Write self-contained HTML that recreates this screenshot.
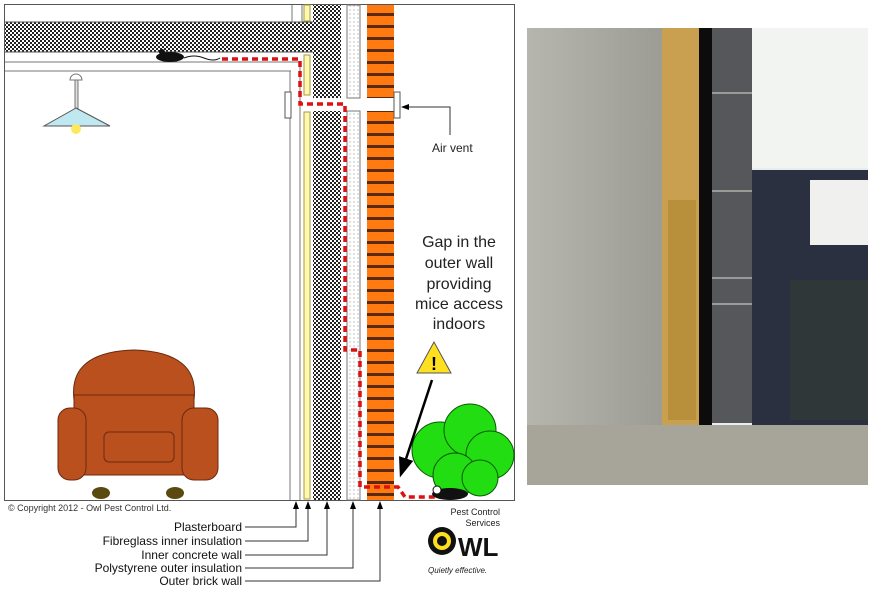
<!DOCTYPE html>
<html><head><meta charset="utf-8"><style>
body{margin:0;background:#fff;width:875px;height:598px;overflow:hidden;font-family:"Liberation Sans",sans-serif}
</style></head><body>
<svg width="875" height="598" viewBox="0 0 875 598" xmlns="http://www.w3.org/2000/svg">
<defs>
<pattern id="chk" width="4" height="4" patternUnits="userSpaceOnUse"><rect width="4" height="4" fill="#fff"/><rect width="2" height="2" fill="#222"/><rect x="2" y="2" width="2" height="2" fill="#222"/></pattern>
<pattern id="brick" width="27" height="12" patternUnits="userSpaceOnUse" y="4"><rect width="27" height="12" fill="#ff7a10"/><rect y="9" width="27" height="3" fill="#5a2a10"/></pattern>
<pattern id="dots" width="4" height="4" patternUnits="userSpaceOnUse"><rect width="4" height="4" fill="#fff"/><circle cx="2" cy="2" r="0.6" fill="#999"/></pattern>
<linearGradient id="conc" x1="0" x2="1"><stop offset="0" stop-color="#b6b6ae"/><stop offset="0.5" stop-color="#a9a9a2"/><stop offset="1" stop-color="#9c9c95"/></linearGradient>
<marker id="ah" markerWidth="8" markerHeight="8" refX="4" refY="4" orient="auto"><path d="M0,1 L8,4 L0,7z" fill="#000"/></marker>
</defs>
<rect x="4.5" y="4.5" width="510" height="496" fill="#fff" stroke="#555"/>
<rect x="5" y="22" width="308" height="30" fill="url(#chk)"/>
<line x1="5" y1="62" x2="300" y2="62" stroke="#777"/>
<line x1="5" y1="71" x2="291" y2="71" stroke="#777"/>
<line x1="5" y1="22" x2="313" y2="22" stroke="#555"/>
<line x1="5" y1="52" x2="313" y2="52" stroke="#555"/>
<line x1="290" y1="71" x2="290" y2="500" stroke="#777"/>
<line x1="292" y1="5" x2="292" y2="22" stroke="#777"/>
<line x1="300" y1="62" x2="300" y2="500" stroke="#777"/>
<line x1="302" y1="5" x2="302" y2="22" stroke="#777"/>
<rect x="304" y="5" width="6" height="16" fill="#fff8b0" stroke="#aa9a40"/>
<rect x="304" y="55" width="6" height="40" fill="#fff8b0" stroke="#aa9a40"/>
<rect x="304" y="112" width="6" height="387" fill="#fff8b0" stroke="#aa9a40"/>
<rect x="313" y="5" width="28" height="93" fill="url(#chk)"/>
<rect x="313" y="111" width="28" height="389" fill="url(#chk)"/>
<rect x="347" y="5" width="13" height="93" fill="url(#dots)" stroke="#777"/>
<rect x="347" y="111" width="13" height="389" fill="url(#dots)" stroke="#777"/>
<rect x="367" y="5" width="27" height="93" fill="url(#brick)"/>
<rect x="367" y="111" width="27" height="389" fill="url(#brick)"/>
<rect x="285" y="92" width="6" height="26" fill="#fff" stroke="#555"/>
<rect x="394" y="92" width="6" height="26" fill="#fff" stroke="#555"/>
<polyline points="222,59 300,59 300,104 345,104 345,350 360,350 360,487 398,487 405,497 440,497" fill="none" stroke="#d11" stroke-width="3.5" stroke-dasharray="6,4"/>
<ellipse cx="170" cy="57" rx="14" ry="5" fill="#111"/><circle cx="162" cy="52" r="3" fill="#111"/>
<path d="M184,58 q10,-4 20,0 t16,0" stroke="#111" fill="none"/>
<path d="M70,80 a6,6 0 0 1 12,0z" fill="#fff" stroke="#777"/>
<rect x="75" y="80" width="3" height="30" fill="#ddd" stroke="#777"/>
<polygon points="76,108 44,126 110,126" fill="#bfe8f0" stroke="#555"/>
<circle cx="76" cy="129" r="5" fill="#ffe860"/>
<path d="M74,400 q-6,-48 60,-50 q66,2 60,50 z" fill="#b9501e" stroke="#6a2a10"/>
<rect x="74" y="395" width="120" height="80" fill="#b9501e" stroke="#6a2a10"/>
<rect x="58" y="408" width="28" height="72" rx="12" fill="#b9501e" stroke="#6a2a10"/>
<rect x="182" y="408" width="36" height="72" rx="12" fill="#b9501e" stroke="#6a2a10"/>
<rect x="104" y="432" width="70" height="30" rx="5" fill="#b9501e" stroke="#6a2a10"/>
<ellipse cx="101" cy="493" rx="9" ry="6" fill="#5a4a10"/><ellipse cx="175" cy="493" rx="9" ry="6" fill="#5a4a10"/>
<g fill="#22dd11" stroke="#0a5a05">
<circle cx="440" cy="450" r="28"/><circle cx="470" cy="430" r="26"/><circle cx="490" cy="455" r="24"/><circle cx="455" cy="475" r="22"/><circle cx="480" cy="478" r="18"/>
</g>
<ellipse cx="450" cy="494" rx="18" ry="6" fill="#111"/><circle cx="437" cy="490" r="4" fill="#fff" stroke="#111"/>
<polygon points="434,342 417,373 451,373" fill="#ffe020" stroke="#555"/>
<text x="434" y="370" font-size="18" font-weight="bold" text-anchor="middle">!</text>
<line x1="432" y1="380" x2="403" y2="468" stroke="#000" stroke-width="2.5" marker-end="url(#ah)"/>
<g font-size="16" fill="#222" text-anchor="middle">
<text x="459" y="247">Gap in the</text><text x="459" y="268">outer wall</text><text x="459" y="289">providing</text><text x="459" y="309">mice access</text><text x="459" y="329">indoors</text>
</g>
<polyline points="450,135 450,107 405,107" fill="none" stroke="#333" marker-end="url(#ah)"/>
<text x="432" y="152" font-size="12" fill="#222">Air vent</text>
<text x="8" y="511" font-size="9" fill="#333">© Copyright 2012 - Owl Pest Control Ltd.</text>
<g stroke="#333" fill="none">
<polyline points="245,527 296,527 296,505" marker-end="url(#ah)"/>
<polyline points="245,541 308,541 308,505" marker-end="url(#ah)"/>
<polyline points="245,555 327,555 327,505" marker-end="url(#ah)"/>
<polyline points="245,568 353,568 353,505" marker-end="url(#ah)"/>
<polyline points="245,581 380,581 380,505" marker-end="url(#ah)"/>
</g>
<g font-size="12" fill="#111" text-anchor="end">
<text x="242" y="531">Plasterboard</text><text x="242" y="545">Fibreglass inner insulation</text><text x="242" y="559">Inner concrete wall</text><text x="242" y="572">Polystyrene outer insulation</text><text x="242" y="585">Outer brick wall</text>
</g>
<text x="500" y="515" font-size="9" text-anchor="end" fill="#222">Pest Control</text>
<text x="500" y="526" font-size="9" text-anchor="end" fill="#222">Services</text>
<circle cx="442" cy="541" r="14" fill="#111"/><circle cx="442" cy="541" r="9" fill="#ffe020"/><circle cx="442" cy="541" r="5" fill="#111"/>
<text x="458" y="556" font-size="26" font-weight="bold" fill="#111">WL</text>
<text x="428" y="573" font-size="8" font-style="italic" fill="#222">Quietly effective.</text>
<rect x="527" y="28" width="341" height="457" fill="#e8ecef"/>
<rect x="752" y="28" width="116" height="140" fill="#f2f4f2"/>
<rect x="752" y="170" width="116" height="260" fill="#2a3040"/>
<rect x="810" y="180" width="58" height="65" fill="#f0f0ee"/>
<rect x="790" y="280" width="78" height="140" fill="#353d30" opacity="0.5"/>
<rect x="527" y="28" width="137" height="420" fill="url(#conc)"/>
<rect x="662" y="28" width="38" height="400" fill="#c8a050"/>
<rect x="668" y="200" width="28" height="220" fill="#b8903c"/>
<rect x="699" y="28" width="13" height="405" fill="#0c0c0c"/>
<rect x="712" y="28" width="40" height="395" fill="#55575a"/>
<line x1="712" y1="93" x2="752" y2="93" stroke="#9a9a96" stroke-width="2"/>
<line x1="712" y1="191" x2="752" y2="191" stroke="#9a9a96" stroke-width="2"/>
<line x1="712" y1="278" x2="752" y2="278" stroke="#9a9a96" stroke-width="2"/>
<line x1="712" y1="304" x2="752" y2="304" stroke="#9a9a96" stroke-width="2"/>
<rect x="527" y="425" width="341" height="60" fill="#a7a49a"/>
</svg>
</body></html>
